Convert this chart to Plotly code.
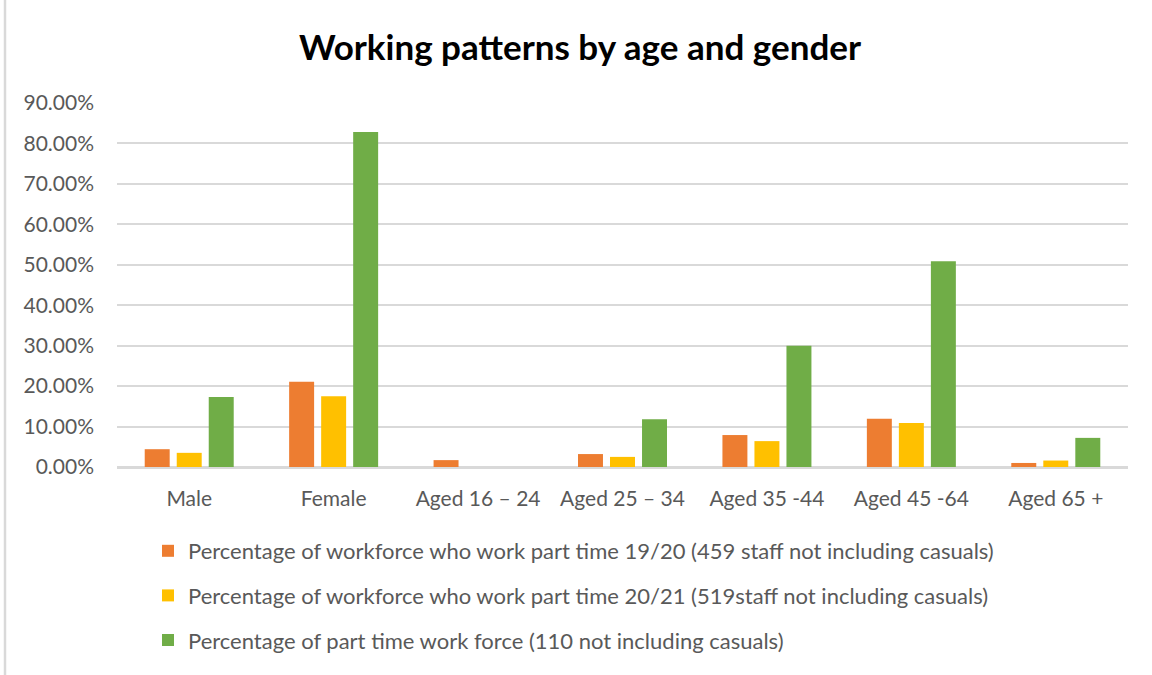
import plotly.graph_objects as go

# Categories along the x axis
categories = ["Male", "Female", "Aged 16 – 24", "Aged 25 – 34",
              "Aged 35 -44", "Aged 45 -64", "Aged 65 +"]

# Series values (share of staff, as fractions)
part_time_1920 = [0.044, 0.211, 0.017, 0.032, 0.079, 0.119, 0.010]
part_time_2021 = [0.035, 0.175, 0.0, 0.025, 0.064, 0.109, 0.016]
part_time_workforce = [0.173, 0.828, 0.0, 0.118, 0.300, 0.509, 0.072]

series_names = [
    "Percentage of workforce who work part time 19/20 (459 staff not including casuals)",
    "Percentage of workforce who work part time 20/21 (519staff not including casuals)",
    "Percentage of part time work force (110 not including casuals)",
]
series_values = [part_time_1920, part_time_2021, part_time_workforce]
series_colors = ["#ED7D31", "#FFC000", "#70AD47"]

FONT = "Lato, Calibri, 'Open Sans', sans-serif"
TEXT_GREY = "#595959"
GRID_GREY = "#D9D9D9"

fig = go.Figure()
for i, (name, vals, col) in enumerate(zip(series_names, series_values, series_colors)):
    fig.add_trace(go.Bar(
        x=categories, y=vals, name=name,
        marker=dict(color=col, line=dict(width=0)),
        legendgroup=f"g{i}",
    ))

# Plot-area geometry in pixels, used to place the chart border line
W, H = 1152, 675
ml, mr, mt, mb = 117, 24, 103, 208
pw, ph = W - ml - mr, H - mt - mb

fig.add_shape(
    type="line", xref="paper", yref="paper",
    x0=(5 - ml) / pw, x1=(5 - ml) / pw,
    y0=-mb / ph, y1=(ph + mt) / ph,
    line=dict(color=GRID_GREY, width=2.5),
)

fig.update_layout(
    width=W, height=H,
    margin=dict(l=ml, r=mr, t=mt, b=mb, autoexpand=False),
    paper_bgcolor="white", plot_bgcolor="white",
    font=dict(family=FONT, color=TEXT_GREY, size=21),
    title=dict(
        text="<b>Working patterns by age and gender</b>",
        x=580 / W, xanchor="center",
        y=1 - 48 / H, yanchor="middle",
        font=dict(family=FONT, size=35, color="black"),
    ),
    barmode="group",
    bargap=0.335,
    bargroupgap=0.22,
    showlegend=True,
    legend=dict(
        orientation="v",
        x=(148 - ml) / pw, xanchor="left",
        y=-(530 - (mt + ph)) / ph, yanchor="top",
        font=dict(family=FONT, size=22, color=TEXT_GREY),
        tracegroupgap=13,
        bgcolor="rgba(0,0,0,0)",
    ),
    xaxis=dict(
        showgrid=False, showline=True, linecolor=GRID_GREY, linewidth=1.5,
        ticks="", ticklabelstandoff=12,
        tickfont=dict(family=FONT, size=21, color=TEXT_GREY),
    ),
    yaxis=dict(
        range=[0, 0.9], dtick=0.1, tickformat=".2%",
        showgrid=True, gridcolor=GRID_GREY, gridwidth=1.5,
        zeroline=True, zerolinecolor=GRID_GREY, zerolinewidth=1.5,
        showline=False, ticks="", ticklabelstandoff=22,
        tickfont=dict(family=FONT, size=21, color=TEXT_GREY),
    ),
)

fig.write_html("out.html")
